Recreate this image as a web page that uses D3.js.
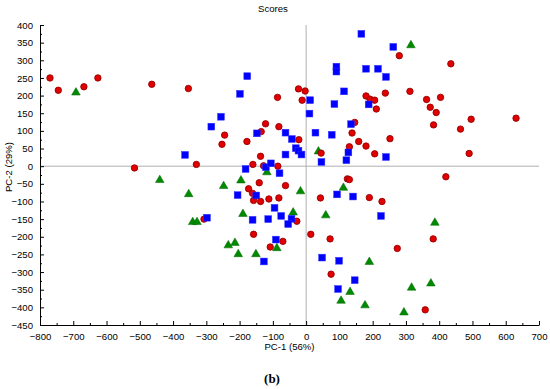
<!DOCTYPE html>
<html>
<head>
<meta charset="utf-8">
<script src="https://cdn.jsdelivr.net/npm/d3@7"></script>
<style>
  body { margin: 0; background: #fff; }
  svg { display: block; font-family: "Liberation Sans", Arial, sans-serif; }
</style>
</head>
<body>
<svg id="chart"></svg>
<script>
// PCA scores
const redPoints = [
  [-770, 250], [-745, 215], [-668, 225], [-626, 250], [-464, 232], [-354, 220],
  [-516, -5], [-330, 5], [-253, 62], [-245, 88], [-178, 70], [-135, 98],
  [-122, 120], [-137, 28], [-160, 5], [-128, 1], [-86, 195], [-82, 112],
  [-85, 0], [-23, 219], [-3, 213], [-12, 187], [-22, 75], [180, 199],
  [192, 190], [206, 187], [211, 162], [238, 207], [280, 313], [435, 290],
  [312, 212], [362, 189], [404, 195], [373, 167], [391, 152], [383, 117],
  [464, 105], [496, 133], [631, 136], [490, 36], [420, -30], [146, 124],
  [138, 94], [158, 70], [180, 57], [130, 55], [252, 78], [206, 35],
  [45, 37], [124, -36], [130, -38], [-62, -55], [-82, -90], [43, -90],
  [190, -89], [228, -100], [-28, -156], [14, -193], [72, -206], [382, -206],
  [-70, -213], [-108, -229], [274, -233], [75, -306], [358, -407], [-141, -47],
  [-173, -64], [-161, -77], [-158, -97], [-137, -100], [-112, -93], [-307, -150],
  [-158, -193]
];

const bluePoints = [
  [-177, 255], [-199, 205], [-256, 140], [-285, 112], [-364, 32], [-148, 93],
  [-182, -8], [-121, -3], [-106, 8], [166, 375], [262, 338], [91, 282],
  [91, 268], [180, 276], [216, 276], [240, 253], [12, 187], [114, 212],
  [85, 176], [188, 175], [10, 149], [-62, 95], [-43, 77], [-31, 51],
  [-23, 44], [-14, 33], [-62, 33], [28, 95], [77, 89], [135, 119],
  [127, 39], [240, 26], [121, 17], [46, 12], [-80, -20], [93, -80],
  [141, -86], [-95, -118], [225, -141], [-75, -141], [-44, -149], [-54, -164],
  [-91, -208], [48, -259], [99, -268], [146, -323], [96, -348], [-150, -83],
  [-206, -82], [-161, -152], [-114, -150], [-298, -146], [-127, -270]
];

const greenPoints = [
  [-692, 210], [-118, -16], [315, 344], [37, 43], [112, -60], [-17, -70],
  [-39, -130], [59, -138], [387, -159], [-88, -231], [190, -270], [317, -343],
  [375, -331], [132, -355], [105, -380], [177, -393], [294, -413], [-440, -38],
  [-353, -78], [-248, -55], [-196, -39], [-190, -134], [-341, -157], [-328, -157],
  [-234, -223], [-214, -216], [-204, -248], [-151, -248]
];

const xTicks = d3.range(-800, 701, 100);
const yTicks = d3.range(-450, 401, 50);

const width = 550, height = 389;
const margin = { top: 25, right: 11, bottom: 64, left: 40 };

const svg = d3.select("#chart").attr("width", width).attr("height", height);

const x = d3.scaleLinear().domain([-800, 700]).range([margin.left, width - margin.right]);
const y = d3.scaleLinear().domain([-450, 400]).range([height - margin.bottom, margin.top]);

// zero lines
svg.append("line")
  .attr("x1", x(-800)).attr("x2", x(700))
  .attr("y1", y(0)).attr("y2", y(0))
  .attr("stroke", "#b0b0b0").attr("stroke-width", 1);
svg.append("line")
  .attr("x1", x(0)).attr("x2", x(0))
  .attr("y1", y(-450)).attr("y2", y(400))
  .attr("stroke", "#b0b0b0").attr("stroke-width", 1);

// minor ticks first, then the labelled axes on top
svg.append("g")
  .attr("transform", `translate(0,${y(-450)})`)
  .call(d3.axisTop(x).tickValues(d3.range(-750, 700, 100)).tickSize(2).tickFormat(""))
  .call(g => g.select(".domain").remove());
svg.append("g")
  .attr("transform", `translate(${x(-800)},0)`)
  .call(d3.axisRight(y).tickValues(d3.range(-425, 400, 50)).tickSize(2).tickFormat(""))
  .call(g => g.select(".domain").remove());

const xAxis = svg.append("g")
  .attr("transform", `translate(0,${y(-450)})`)
  .call(d3.axisBottom(x).tickValues(xTicks).tickSizeInner(-4).tickSizeOuter(0).tickPadding(8));
const yAxis = svg.append("g")
  .attr("transform", `translate(${x(-800)},0)`)
  .call(d3.axisLeft(y).tickValues(yTicks).tickSizeInner(-4).tickSizeOuter(0).tickPadding(7));

[xAxis, yAxis].forEach(g => {
  g.selectAll("text").attr("font-size", 9.6).attr("fill", "#000")
    .attr("font-family", "'Liberation Sans', Arial, sans-serif");
  g.selectAll("line, path").attr("stroke", "#000");
});

// markers: green, then red, then blue on top
const tri = d3.symbol().type(d3.symbolTriangle).size(32);
svg.append("g").selectAll("path")
  .data(greenPoints)
  .join("path")
  .attr("transform", d => `translate(${x(d[0])},${y(d[1]) + 0.5})`)
  .attr("d", tri)
  .attr("fill", "#008a00")
  .attr("stroke", "#006400")
  .attr("stroke-width", 0.5);

svg.append("g").selectAll("circle")
  .data(redPoints)
  .join("circle")
  .attr("cx", d => x(d[0]))
  .attr("cy", d => y(d[1]))
  .attr("r", 3.2)
  .attr("fill", "#e00000")
  .attr("stroke", "#990000")
  .attr("stroke-width", 0.9);

svg.append("g").selectAll("rect")
  .data(bluePoints)
  .join("rect")
  .attr("x", d => x(d[0]) - 3.4)
  .attr("y", d => y(d[1]) - 3.4)
  .attr("width", 6.8)
  .attr("height", 6.8)
  .attr("fill", "#0000ff")
  .attr("stroke", "#3030ff")
  .attr("stroke-width", 0.5);

// titles
svg.append("text")
  .attr("x", 273).attr("y", 12)
  .attr("text-anchor", "middle")
  .attr("font-size", 9.6)
  .text("Scores");

svg.append("text")
  .attr("x", (x(-800) + x(700)) / 2).attr("y", 350)
  .attr("text-anchor", "middle")
  .attr("font-size", 9.6)
  .text("PC-1 (56%)");

svg.append("text")
  .attr("transform", `translate(11.5,167) rotate(-90)`)
  .attr("text-anchor", "middle")
  .attr("font-size", 9.6)
  .text("PC-2 (29%)");

svg.append("text")
  .attr("x", 272).attr("y", 383)
  .attr("text-anchor", "middle")
  .attr("font-family", "'Liberation Serif', 'Times New Roman', serif")
  .attr("font-weight", "bold")
  .attr("font-size", 13)
  .text("(b)");
</script>
</body>
</html>
